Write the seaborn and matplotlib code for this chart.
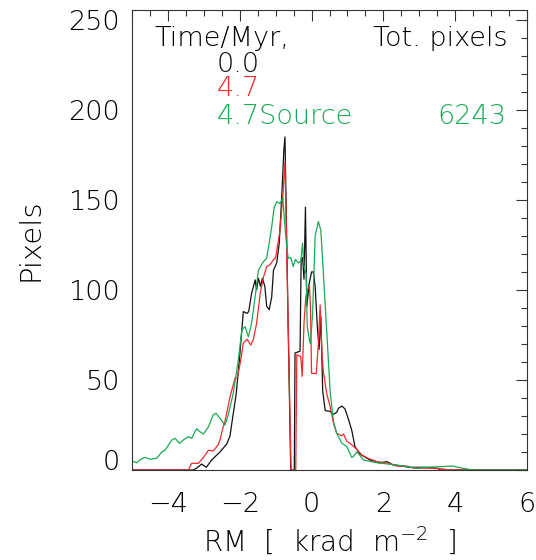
import matplotlib
matplotlib.use("Agg")
import matplotlib.pyplot as plt
import matplotlib.transforms as mtransforms
from matplotlib.ticker import MultipleLocator
import seaborn as sns
import pandas as pd

# ---- data ----
black_x = [-5, -3.3, -3.2, -3.06, -2.93, -2.78, -2.55, -2.36, -2.27, -2.22, -2.10, -2.01, -1.94, -1.90,
           -1.80, -1.75, -1.67, -1.57, -1.53, -1.48, -1.42, -1.37, -1.30, -1.25, -1.18, -1.11, -1.06,
           -0.97, -0.90, -0.83, -0.77, -0.74, -0.66, -0.58, -0.48, -0.46, -0.32, -0.29, -0.25, -0.21,
           -0.17, -0.13, -0.07, 0.0, 0.05, 0.10, 0.16, 0.21, 0.26, 0.31, 0.38, 0.52, 0.61, 0.70, 0.75,
           0.84, 0.93, 1.03, 1.12, 1.21, 1.35, 1.63, 1.91, 2.1, 2.28, 2.74, 3.2, 3.5, 3.6, 6]
black_y = [0, 0, 1, 3.3, 1.5, 5.6, 10, 14.5, 19, 26, 42, 61, 78, 88,
           87, 88, 98, 105.6, 100, 106.5, 102, 106.5, 102, 91, 89, 96, 111,
           115, 126, 152, 178, 185, 90, 0, 0, 65, 66, 117, 118, 106,
           146, 91, 103, 110, 110, 102, 80, 67, 85, 44, 33, 32.5, 31, 32, 34.3,
           35.5, 34, 28, 22, 13, 8.8, 5.5, 4, 4.6, 2.8, 1.5, 1.5, 1, 0, 0]

red_x = [-5, -3.43, -3.34, -3.15, -3.01, -2.87, -2.74, -2.60, -2.55, -2.46, -2.41, -2.27, -2.13, -2.07,
         -1.99, -1.90, -1.80, -1.69, -1.62, -1.53, -1.43, -1.34, -1.25, -1.16, -1.06, -1.0, -0.95,
         -0.88, -0.80, -0.74, -0.57, -0.44, -0.41, -0.30, -0.26, -0.21, -0.16, -0.12, -0.06, -0.03,
         0.0, 0.13, 0.19, 0.24, 0.29, 0.33, 0.42, 0.52, 0.61, 0.70, 0.84, 0.89, 0.98, 1.07, 1.26,
         1.40, 1.58, 1.82, 2.1, 2.37, 2.65, 2.84, 3.3, 3.7, 3.8, 6]
red_y = [0, 0, 3.7, 3.7, 7, 11, 10.5, 14, 16.7, 24, 27, 40.7, 51, 51,
         59, 70.4, 72.6, 69.4, 72.6, 81.5, 98, 107, 113, 114, 116.7, 118, 124,
         133, 152, 171, 0, 0, 64, 63, 52, 81.5, 96, 100, 102, 91,
         53.7, 53.5, 70, 91.7, 65, 54.6, 42.6, 35, 26, 20.4, 19, 20, 16, 14.8, 11.5,
         8.3, 6.5, 4.6, 4, 2.2, 2.2, 1, 1, 0.5, 0, 0]

green_x = [-5, -4.87, -4.75, -4.64, -4.5, -4.31, -4.17, -4.08, -3.89, -3.80, -3.68, -3.57, -3.43, -3.34,
           -3.20, -3.11, -3.01, -2.87, -2.74, -2.66, -2.55, -2.41, -2.32, -2.18, -2.04, -1.94, -1.85,
           -1.76, -1.67, -1.57, -1.48, -1.34, -1.25, -1.18, -1.11, -1.04, -0.97, -0.88, -0.80, -0.74,
           -0.69, -0.65, -0.58, -0.51, -0.45, -0.37, -0.30, -0.25, -0.21, -0.15, -0.12, -0.06, -0.03,
           0.03, 0.10, 0.19, 0.26, 0.33, 0.42, 0.52, 0.61, 0.70, 0.84, 0.98, 1.12, 1.16, 1.26, 1.30,
           1.44, 1.82, 2.37, 2.93, 3.3, 3.94, 4.2, 4.5, 6]
green_y = [5, 4, 6, 7, 6, 6.5, 10, 11, 16.7, 17.6, 14.8, 16.7, 18.5, 17.6,
           23, 21.3, 20, 24, 30.6, 31.5, 28.7, 25, 30.6, 42.6, 61, 77.8, 79.6,
           74, 81.5, 96.3, 111, 115.7, 117.6, 126, 135, 146, 149, 148, 151, 135,
           124, 117.6, 118, 113, 117, 115, 116, 126, 113, 109, 80, 72, 70,
           87, 130, 138, 133, 109, 78, 43, 27, 20.4, 15, 13, 7, 7.4, 10, 9.3,
           5.6, 4, 2.8, 1, 1.6, 2.2, 1, 0, 0]

series_names = ["0.0", "4.7", "4.7Source"]
series_colors = ["#111111", "#f02a2a", "#1aaa55"]
legend_header = ["Time/Myr,", "Tot. pixels"]
total_pixels = ["", "", "6243"]

x_ticks = [-4, -2, 0, 2, 4, 6]
y_ticks = [0, 50, 100, 150, 200, 250]

# ---- figure ----
sns.set_style("white")
plt.rcParams["font.family"] = ["DejaVu Sans"]
plt.rcParams["font.weight"] = 200
plt.rcParams["axes.labelweight"] = 200
plt.rcParams["mathtext.default"] = "regular"
fig = plt.figure(figsize=(5.36, 5.60), dpi=100)
ax = fig.add_axes([132 / 536, 90 / 560, 395 / 536, 460 / 560])

frames = []
for name, xs, ys in zip(series_names, [black_x, red_x, green_x], [black_y, red_y, green_y]):
    frames.append(pd.DataFrame({"RM": xs, "Pixels": ys, "series": name}))
df = pd.concat(frames, ignore_index=True)

sns.lineplot(data=df, x="RM", y="Pixels", hue="series", palette=dict(zip(series_names, series_colors)),
             estimator=None, sort=False, linewidth=0.9, legend=False, ax=ax)

ax.set_xlim(-5, 6)
ax.set_ylim(0, 255.5)
ax.set_xticks(x_ticks)
ax.set_yticks(y_ticks)
ax.xaxis.set_minor_locator(MultipleLocator(0.5))
ax.yaxis.set_minor_locator(MultipleLocator(10))
ax.set_xticklabels([f"{v}".replace("-", "\u2212") for v in x_ticks])
ax.tick_params(which="both", direction="in", top=True, right=True, color="#333333", width=0.8)
ax.tick_params(which="major", length=8)
ax.tick_params(which="minor", length=4)
ax.tick_params(axis="x", which="major", pad=16, labelsize=19.5, labelcolor="black")
ax.tick_params(axis="y", which="major", pad=9, labelsize=19.5, labelcolor="black")
for sp in ax.spines.values():
    sp.set_color("#333333")
    sp.set_linewidth(0.8)

# IDL places the 0 label slightly above the axis
lab0 = ax.get_yticklabels()[0]
lab0.set_transform(lab0.get_transform() + mtransforms.ScaledTranslation(0, 9.5 / 100, fig.dpi_scale_trans))

ax.set_xlabel("RM  [  krad  m$^{-2}$  ]", fontsize=20, color="black", fontweight=200)
ax.xaxis.set_label_coords(0.5, (470 - 542) / 460)
ax.xaxis.label.set_va("center")
ax.set_ylabel("Pixels", fontsize=21, color="black", fontweight=200)
ax.yaxis.set_label_coords((44 - 132) / 395, 0.5)

def axx(px):
    return (px - 132) / 395

def axy(py):
    return (470 - py) / 460

tk = dict(transform=ax.transAxes, fontsize=19.5, va="baseline", fontweight=200)
ax.text(axx(154), axy(46), legend_header[0], color="black", ha="left", **tk)
ax.text(axx(508), axy(46), legend_header[1], color="black", ha="right", **tk)
for i, (name, col, tot) in enumerate(zip(series_names, series_colors, total_pixels)):
    yb = [72, 96, 123.5][i]
    ax.text(axx(217), axy(yb), name, color=col, ha="left", **tk)
    if tot:
        ax.text(axx(507), axy(yb), tot, color=col, ha="right", **tk)

fig.savefig("out.png", dpi=100)
